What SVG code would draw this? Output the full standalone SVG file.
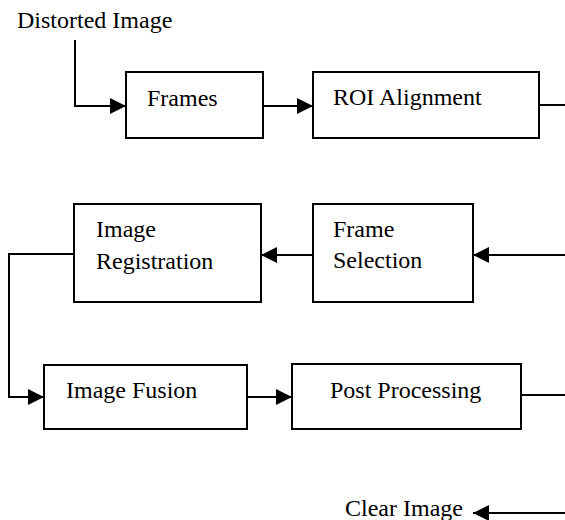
<svg xmlns="http://www.w3.org/2000/svg" width="565" height="520" viewBox="0 0 565 520">
<defs>
<style>
.box{fill:#fff;stroke:#000;stroke-width:2}
.c{fill:none;stroke:#000;stroke-width:2}
</style>
<marker id="ah" markerUnits="userSpaceOnUse" markerWidth="16" markerHeight="16" viewBox="0 0 15 15" refX="15" refY="7.5" orient="auto">
<path d="M0,0 L15,7.5 L0,15 Z" fill="#000"/>
</marker>
</defs>
<rect width="565" height="520" fill="#fff"/>
<g id="connectors">
<path class="c" d="M75,40 V106 H126" marker-end="url(#ah)"/>
<path class="c" d="M263,106 H313" marker-end="url(#ah)"/>
<path class="c" d="M539,105 H566"/>
<path class="c" d="M566,255 H473" marker-end="url(#ah)"/>
<path class="c" d="M313,255 H261" marker-end="url(#ah)"/>
<path class="c" d="M74,254 H9 V397 H44" marker-end="url(#ah)"/>
<path class="c" d="M247,397 H292" marker-end="url(#ah)"/>
<path class="c" d="M521,395 H566"/>
<path class="c" d="M566,513 H473" marker-end="url(#ah)"/>
</g>
<g font-family="'Liberation Serif', 'Times New Roman', serif" font-size="24" fill="#000">
<g id="distorted"><text x="17" y="28">Distorted Image</text></g>
<g id="frames"><rect class="box" x="126" y="72" width="137" height="66"/><text x="147" y="106">Frames</text></g>
<g id="roi"><rect class="box" x="313" y="72" width="226" height="66"/><text x="333" y="105">ROI Alignment</text></g>
<g id="frame-selection"><rect class="box" x="313" y="204" width="160" height="98"/><text x="333" y="237">Frame</text><text x="333" y="268">Selection</text></g>
<g id="image-registration"><rect class="box" x="74" y="204" width="187" height="98"/><text x="96" y="237">Image</text><text x="96" y="269">Registration</text></g>
<g id="image-fusion"><rect class="box" x="44" y="365" width="203" height="64"/><text x="66" y="398">Image Fusion</text></g>
<g id="post-processing"><rect class="box" x="292" y="364" width="229" height="65"/><text x="330" y="398">Post Processing</text></g>
<g id="clear"><text x="345" y="516">Clear Image</text></g>
</g>
</svg>
